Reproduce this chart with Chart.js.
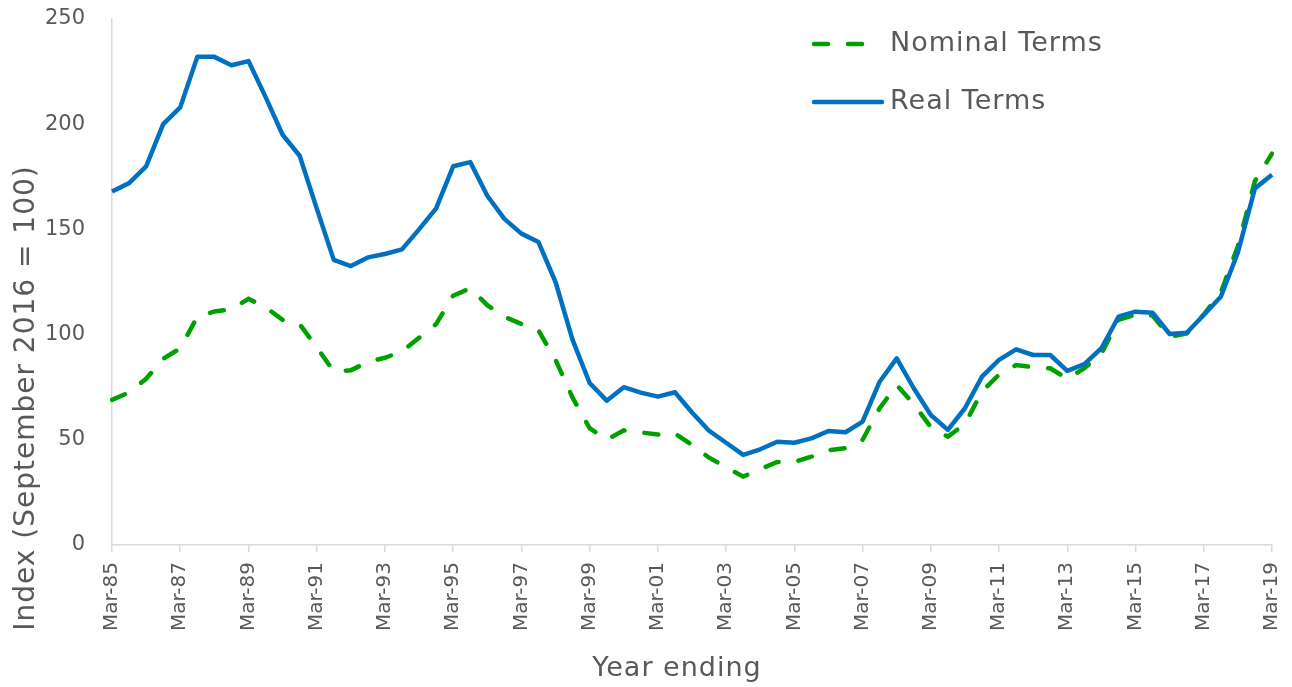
<!DOCTYPE html>
<html>
<head>
<meta charset="utf-8">
<title>House price index</title>
<script src="https://cdn.jsdelivr.net/npm/chart.js@4.4.1/dist/chart.umd.min.js"></script>
<style>
  html, body { margin: 0; padding: 0; background: #fff; }
  #wrap { width: 1292px; height: 687px; position: relative; }
</style>
</head>
<body>
<div id="wrap"><canvas id="chart"></canvas></div>
<script>
// half-yearly periods, year ending March / September
const periods = [
  "Mar-85","Sep-85","Mar-86","Sep-86","Mar-87","Sep-87","Mar-88","Sep-88",
  "Mar-89","Sep-89","Mar-90","Sep-90","Mar-91","Sep-91","Mar-92","Sep-92",
  "Mar-93","Sep-93","Mar-94","Sep-94","Mar-95","Sep-95","Mar-96","Sep-96",
  "Mar-97","Sep-97","Mar-98","Sep-98","Mar-99","Sep-99","Mar-00","Sep-00",
  "Mar-01","Sep-01","Mar-02","Sep-02","Mar-03","Sep-03","Mar-04","Sep-04",
  "Mar-05","Sep-05","Mar-06","Sep-06","Mar-07","Sep-07","Mar-08","Sep-08",
  "Mar-09","Sep-09","Mar-10","Sep-10","Mar-11","Sep-11","Mar-12","Sep-12",
  "Mar-13","Sep-13","Mar-14","Sep-14","Mar-15","Sep-15","Mar-16","Sep-16",
  "Mar-17","Sep-17","Mar-18","Sep-18","Mar-19"
];

const nominalTerms = [
  69, 72.5, 79, 88.5, 93.5, 108.5, 111, 112,
  117, 113, 107, 105, 94, 82.5, 83, 87,
  89, 92, 98.5, 105, 118.5, 122, 114, 108.5,
  105, 102, 88, 70, 55.5, 50, 54.5, 53.5,
  52.5, 53, 47.5, 41.5, 37, 32.5, 36, 39.5,
  39.5, 42, 45, 46, 50, 65, 76, 67,
  56, 51.5, 57.5, 73, 81, 85.5, 84.5, 84,
  79, 84, 91, 107, 109.5, 109, 99, 100.5,
  109.5, 120, 142, 173, 186
];

const realTerms = [
  168, 172, 180, 200, 208, 232, 232, 228,
  230, 213, 195, 185, 160, 135.5, 132.6, 136.7,
  138.3, 140.5, 150, 160, 180, 182, 166, 155,
  148, 144, 125, 97.5, 77, 68.6, 75, 72.4,
  70.5, 72.6, 63, 54.3, 48.6, 42.8, 45.5, 49.1,
  48.6, 50.7, 54.2, 53.6, 58.6, 77.6, 88.7, 74.5,
  61.8, 54.7, 65, 80, 88, 93, 90.3, 90.3,
  82.8, 86, 93.5, 108.5, 110.9, 110.4, 100.3, 100.9,
  109.3, 118, 139, 169.5, 176
];

const yTicks = [0, 50, 100, 150, 200, 250];

const FONT = "'DejaVu Sans', Verdana, sans-serif";
const TEXT = "#595959";
const AXIS = "#d9d9d9";
const GREEN = "#00a000";
const BLUE = "#0070c0";

// axis titles and the legend sit outside what Chart.js can place, so draw them here
const annotations = {
  id: "annotations",
  afterDraw(chart) {
    const ctx = chart.ctx;
    ctx.save();
    ctx.fillStyle = TEXT;
    ctx.letterSpacing = "1px";
    ctx.textBaseline = "middle";

    // y title
    ctx.save();
    ctx.font = "28px " + FONT;
    ctx.translate(27, 398);
    ctx.rotate(-Math.PI / 2);
    ctx.textAlign = "center";
    ctx.fillText("Index (September 2016 = 100)", 0, 0);
    ctx.restore();

    ctx.font = "27px " + FONT;
    // x title
    ctx.textAlign = "center";
    ctx.fillText("Year ending", 677, 669);

    // legend
    const items = [
      { label: "Nominal Terms", color: GREEN, dash: [14, 20], y: 44 },
      { label: "Real Terms", color: BLUE, dash: [], y: 102 }
    ];
    items.forEach((it) => {
      ctx.save();
      ctx.strokeStyle = it.color;
      ctx.lineWidth = 4.5;
      ctx.lineCap = "round";
      ctx.setLineDash(it.dash);
      ctx.beginPath();
      ctx.moveTo(814, it.y);
      ctx.lineTo(882, it.y);
      ctx.stroke();
      ctx.restore();
      ctx.textAlign = "left";
      ctx.fillText(it.label, 890, it.y);
    });
    ctx.restore();
  }
};

new Chart(document.getElementById("chart"), {
  type: "line",
  data: {
    labels: periods,
    datasets: [
      {
        label: "Nominal Terms",
        data: nominalTerms,
        borderColor: GREEN,
        borderWidth: 4.5,
        borderDash: [14, 20],
        borderCapStyle: "round",
        pointRadius: 0,
        tension: 0,
        fill: false,
        order: 1
      },
      {
        label: "Real Terms",
        data: realTerms,
        borderColor: BLUE,
        borderWidth: 4.5,
        borderJoinStyle: "round",
        pointRadius: 0,
        tension: 0,
        fill: false,
        order: 0
      }
    ]
  },
  options: {
    responsive: true,
    maintainAspectRatio: false,
    animation: false,
    layout: { padding: { top: 19, right: 20, left: 0, bottom: 0 } },
    plugins: {
      legend: { display: false },
      tooltip: { enabled: false }
    },
    scales: {
      x: {
        offset: false,
        grid: { drawOnChartArea: false, drawTicks: true, tickLength: 7, color: AXIS, lineWidth: 1.5 },
        border: { color: AXIS, width: 1.5 },
        ticks: {
          autoSkip: false,
          maxRotation: 90,
          minRotation: 90,
          padding: 10,
          color: TEXT,
          font: { family: FONT, size: 20 },
          callback: (value, index) => (index % 4 === 0 ? periods[index] : null)
        },
        afterFit: (scale) => {
          scale.height = 142;
          scale.paddingLeft = 0;
          scale.paddingRight = 0;
        }
      },
      y: {
        min: yTicks[0],
        max: yTicks[yTicks.length - 1],
        grid: { drawOnChartArea: false, drawTicks: false },
        border: { color: AXIS, width: 1.5 },
        afterBuildTicks: (scale) => { scale.ticks = yTicks.map((v) => ({ value: v })); },
        ticks: {
          padding: 27,
          color: TEXT,
          font: { family: FONT, size: 21 }
        },
        afterFit: (scale) => {
          scale.width = 112;
          scale.paddingTop = 0;
          scale.paddingBottom = 0;
        }
      }
    }
  },
  plugins: [annotations]
});
</script>
</body>
</html>
